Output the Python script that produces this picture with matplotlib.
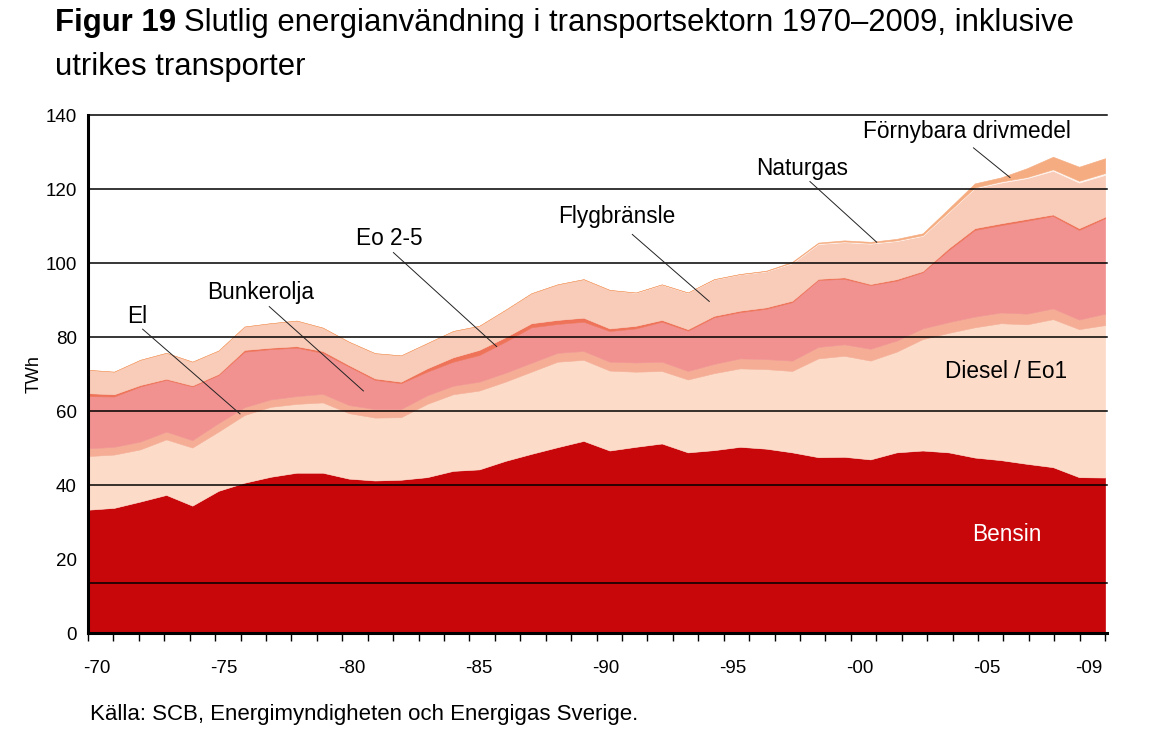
import matplotlib
matplotlib.use('Agg')
import matplotlib.pyplot as plt
from matplotlib.ticker import FixedLocator, NullFormatter

plt.rcParams['font.family'] = ['Liberation Sans', 'DejaVu Sans']

years = list(range(1970, 2010))

bensin = [33.4, 33.9, 35.6, 37.4, 34.5, 38.5, 40.7, 42.3, 43.4, 43.4,
          41.8, 41.3, 41.5, 42.2, 43.9, 44.3, 46.6, 48.5, 50.3, 52.0,
          49.4, 50.4, 51.3, 48.9, 49.5, 50.4, 49.9, 48.9, 47.6, 47.7,
          47.0, 48.9, 49.4, 48.9, 47.5, 46.8, 45.8, 44.9, 42.2, 42.1]
diesel = [14.5, 14.4, 14.1, 15.0, 15.7, 16.0, 18.3, 18.9, 18.6, 19.0,
          17.7, 17.0, 16.9, 19.8, 20.7, 21.3, 21.4, 22.2, 23.1, 21.9,
          21.6, 20.3, 19.6, 19.7, 20.8, 21.2, 21.5, 22.0, 26.7, 27.3,
          26.7, 27.2, 30.1, 32.3, 35.2, 37.0, 37.7, 40.0, 40.0, 41.2]
el = [2.1, 2.1, 2.1, 2.1, 2.0, 2.3, 2.1, 2.0, 2.1, 2.3,
      2.2, 2.3, 2.2, 2.3, 2.3, 2.4, 2.4, 2.4, 2.4, 2.4,
      2.4, 2.5, 2.5, 2.3, 2.5, 2.7, 2.7, 2.8, 3.1, 3.1,
      3.2, 3.0, 2.9, 2.9, 2.9, 2.9, 2.9, 2.9, 2.6, 3.1]
bunkerolja = [14.1, 13.6, 14.9, 14.0, 14.5, 13.0, 15.0, 13.6, 13.1, 11.1,
              10.4, 7.9, 7.0, 6.4, 6.5, 7.2, 8.4, 9.6, 7.8, 7.9,
              8.3, 9.2, 10.8, 10.9, 12.6, 12.5, 13.6, 15.8, 18.1, 17.7,
              17.2, 16.2, 15.2, 19.5, 23.4, 23.6, 25.1, 25.0, 24.2, 25.8]
eo25 = [0.8, 0.6, 0.4, 0.3, 0.3, 0.3, 0.5, 0.4, 0.4, 0.5,
        0.4, 0.4, 0.4, 0.9, 1.2, 1.4, 1.2, 1.1, 1.1, 1.1,
        0.7, 0.7, 0.5, 0.4, 0.4, 0.4, 0.4, 0.4, 0.3, 0.4,
        0.3, 0.4, 0.3, 0.5, 0.5, 0.5, 0.5, 0.4, 0.5, 0.4]
flyg = [6.3, 6.1, 6.8, 7.0, 6.4, 6.3, 6.3, 6.6, 6.9, 6.3,
        6.3, 6.8, 7.1, 6.8, 7.1, 6.5, 7.4, 8.1, 9.6, 10.4,
        10.4, 8.9, 9.5, 9.8, 9.8, 9.8, 9.7, 10.1, 9.4, 9.5,
        10.9, 10.3, 9.5, 9.7, 10.8, 11.0, 11.0, 11.8, 12.3, 11.3]
naturgas = [0.0] * 21 + [0.1, 0.1, 0.1, 0.1, 0.1, 0.1,
                         0.2, 0.2, 0.2, 0.2, 0.2, 0.2, 0.2,
                         0.2, 0.3, 0.3, 0.4, 0.5, 0.5]
fornybara = [0.0] * 26 + [0.1, 0.2, 0.2, 0.3, 0.3, 0.4, 0.5, 0.8,
                          1.1, 1.1, 2.4, 3.4, 3.8, 4.0]

series = [bensin, diesel, el, bunkerolja, eo25, flyg, naturgas, fornybara]
colors = ['#C8070B', '#FCDCC9', '#F5AD95', '#F19291', '#EE7358',
          '#F9CBB9', '#FFF4EE', '#F5AC80']

tick_years = [1970, 1975, 1980, 1985, 1990, 1995, 2000, 2005, 2009]
tick_labels = ['-70', '-75', '-80', '-85', '-90', '-95', '-00', '-05', '-09']
yticks = [0, 20, 40, 60, 80, 100, 120, 140]
hlines = [13.6, 40, 60, 80, 100, 120, 140]

W, H = 1169, 738
fig = plt.figure(figsize=(W / 100, H / 100), dpi=100)
ax = fig.add_axes([88 / W, (H - 633.3) / H, (1107 - 88) / W, (633.3 - 115.3) / H])

x = list(range(len(years)))
base = [0.0] * len(years)
for s, c in zip(series, colors):
    top = [b + v for b, v in zip(base, s)]
    ax.fill_between(x, base, top, facecolor=c, edgecolor=c, linewidth=0.4, zorder=1)
    base = top

for h in hlines:
    ax.axhline(h, color='black', lw=1.1, zorder=3, clip_on=False)

ax.set_xlim(0, 39.07)
ax.set_ylim(0, 140)

n = len(years)
band = (n - 1) / n
ax.xaxis.set_minor_locator(FixedLocator([k * band for k in range(n + 1)]))
ax.xaxis.set_minor_formatter(NullFormatter())
ax.set_xticks([(years.index(y) + 0.5) * band - 0.14 for y in tick_years])
ax.set_xticklabels(tick_labels)
ax.tick_params(axis='x', which='major', length=0, pad=19, labelsize=13.5)
ax.tick_params(axis='x', which='minor', length=6, width=1.0, direction='out', color='black')
ax.set_yticks(yticks)
ax.tick_params(axis='y', which='major', length=0, pad=8, labelsize=13.5)

for sp in ['top', 'right']:
    ax.spines[sp].set_visible(False)
ax.spines['left'].set_linewidth(2.2)
ax.spines['bottom'].set_linewidth(2.2)
ax.spines['left'].set_zorder(4)
ax.spines['bottom'].set_zorder(4)

ax.set_ylabel('TWh', fontsize=13, labelpad=2)

lab = dict(fontsize=16.3, ha='center', va='center', zorder=5)
ax.text(1.867, 85.6, 'El', **lab)
ax.plot([2.094, 5.828], [82.2, 59.3], color='#222222', lw=0.7, zorder=5)
ax.text(6.63, 92.1, 'Bunkerolja', **lab)
ax.plot([6.95, 10.56], [88.3, 65.5], color='#222222', lw=0.7, zorder=5)
ax.text(11.56, 106.8, 'Eo 2-5', **lab)
ax.plot([11.71, 15.67], [102.9, 77.5], color='#222222', lw=0.7, zorder=5)
ax.text(20.27, 112.6, 'Flygbränsle', **lab)
ax.plot([20.87, 23.82], [107.8, 89.7], color='#222222', lw=0.7, zorder=5)
ax.text(27.38, 125.7, 'Naturgas', **lab)
ax.plot([27.68, 30.24], [122.1, 105.7], color='#222222', lw=0.7, zorder=5)
ax.text(33.69, 135.6, 'Förnybara drivmedel', **lab)
ax.plot([33.95, 35.35], [131.2, 123.2], color='#222222', lw=0.7, zorder=5)
ax.text(35.2, 70.7, 'Diesel / Eo1', **lab)
ax.text(35.22, 26.8, 'Bensin', color='white', **lab)

t1 = fig.text(55 / W, 1 - 31 / H, 'Figur 19', fontsize=22.4, weight='bold', va='baseline')
fig.canvas.draw()
bb = t1.get_window_extent(renderer=fig.canvas.get_renderer())
fig.text((bb.x1 + 8) / W, 1 - 31 / H,
         'Slutlig energianvändning i transportsektorn 1970–2009, inklusive',
         fontsize=22.3, va='baseline')
fig.text(55 / W, 1 - 75 / H, 'utrikes transporter', fontsize=22.3, va='baseline')

fig.text(90 / W, 1 - 720 / H, 'Källa: SCB, Energimyndigheten och Energigas Sverige.',
         fontsize=16, va='baseline')

fig.savefig('out.png', dpi=100)
